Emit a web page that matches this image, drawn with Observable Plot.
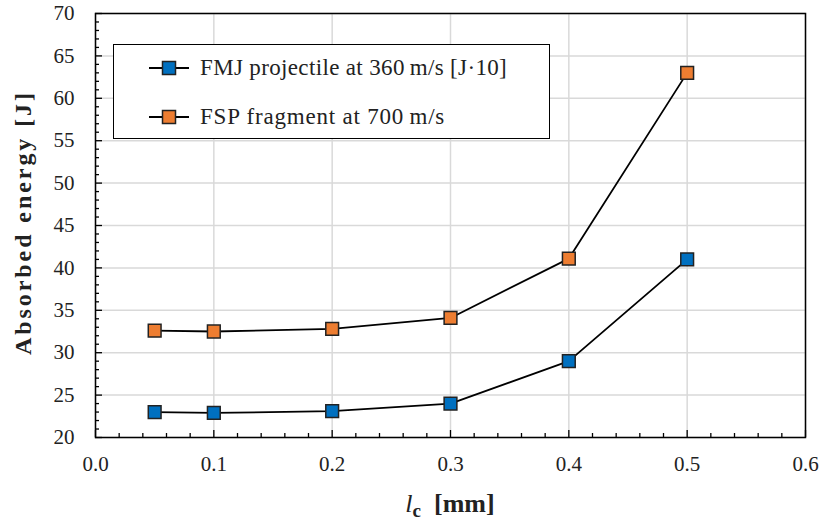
<!DOCTYPE html>
<html><head><meta charset="utf-8">
<script src="https://cdn.jsdelivr.net/npm/d3@7"></script>
<script src="https://cdn.jsdelivr.net/npm/@observablehq/plot@0.6"></script>
<style>
body{margin:0;background:#fff;}
#wrap{position:relative;width:822px;height:524px;font-family:"Liberation Serif",serif;}
#legend{position:absolute;left:113px;top:44px;width:435px;height:93px;border:1.5px solid #000;background:#fff;font-size:23px;color:#222;}
.li{position:absolute;left:34px;display:flex;align-items:center;white-space:nowrap;}
.li svg{margin-right:10px;}
</style></head>
<body><div id="wrap"><div id="legend"></div></div>
<script>
const lc = [0.05, 0.1, 0.2, 0.3, 0.4, 0.5];
const fmj = [23.0, 22.9, 23.1, 24.0, 29.0, 41.0];
const fsp = [32.6, 32.5, 32.8, 34.1, 41.1, 63.0];
const seriesNames = ["FMJ projectile at 360\u2009m/s [J\u00b710]", "FSP fragment at 700\u2009m/s"];
const colors = ["#0070C0", "#ED7D31"];
const xTicks = [0, 0.1, 0.2, 0.3, 0.4, 0.5, 0.6];
const yTicks = [20, 25, 30, 35, 40, 45, 50, 55, 60, 65, 70];
const xMinor = d3.range(0, 61, 2).map(d => d / 100).filter(d => Math.round(d * 100) % 10 !== 0);
const yMinor = d3.range(20, 71).filter(d => d % 5 !== 0);

const data = [];
lc.forEach((x, i) => data.push({x, y: fmj[i], s: seriesNames[0]}));
lc.forEach((x, i) => data.push({x, y: fsp[i], s: seriesNames[1]}));

const plot = Plot.plot({
  width: 822, height: 524,
  marginLeft: 95, marginRight: 17, marginTop: 13, marginBottom: 87,
  style: {fontFamily: "Liberation Serif, serif", fontSize: "21px", background: "#fff", color: "#222"},
  x: {domain: [0, 0.6]},
  y: {domain: [20, 70]},
  color: {domain: seriesNames, range: colors},
  marks: [
    Plot.gridX(xTicks, {stroke: "#d9d9d9", strokeOpacity: 1, strokeWidth: 1.5}),
    Plot.gridY(yTicks, {stroke: "#d9d9d9", strokeOpacity: 1, strokeWidth: 1.5}),
    Plot.axisX(xTicks, {tickSize: -7, tickFormat: () => "", label: null, strokeWidth: 1.3, stroke: "#000"}),
    Plot.axisX(xMinor, {tickSize: -4, tickFormat: () => "", label: null, strokeWidth: 1.3, stroke: "#000"}),
    Plot.axisY(yTicks, {tickSize: -7, tickFormat: () => "", label: null, strokeWidth: 1.3, stroke: "#000"}),
    Plot.axisY(yMinor, {tickSize: -4, tickFormat: () => "", label: null, strokeWidth: 1.3, stroke: "#000"}),
    Plot.axisX(xTicks, {tickSize: 0, tickPadding: 19, tickFormat: d => d.toFixed(1), label: null, fontSize: 21, fill: "#222"}),
    Plot.axisY(yTicks, {tickSize: 0, tickPadding: 21, label: null, fontSize: 21, fill: "#222"}),
    Plot.frame({stroke: "#000", strokeWidth: 1.5}),
    Plot.line(data, {x: "x", y: "y", z: "s", stroke: "#000", strokeWidth: 1.8}),
    Plot.dot(data, {x: "x", y: "y", symbol: "square", r: 7.2, fill: "s", stroke: "#222", strokeWidth: 1.5})
  ]
});
document.getElementById("wrap").prepend(plot);

const svg = d3.select(plot);
svg.append("text")
  .attr("transform", "translate(25,224) rotate(-90)")
  .attr("text-anchor", "middle").attr("dominant-baseline", "middle")
  .attr("font-size", 24).attr("font-weight", "bold").attr("fill", "#222")
  .attr("font-family", "Liberation Serif, serif")
  .attr("textLength", 262).attr("lengthAdjust", "spacing")
  .text("Absorbed energy [J]");
const xl = svg.append("text")
  .attr("x", 450).attr("y", 512).attr("text-anchor", "middle")
  .attr("font-size", 26).attr("fill", "#222").attr("font-family", "Liberation Serif, serif");
xl.append("tspan").attr("font-style", "italic").text("l");
xl.append("tspan").attr("font-weight", "bold").attr("font-size", 19).attr("dy", 5).text("c");
xl.append("tspan").attr("font-weight", "bold").attr("dy", -5).text("\u2002[mm]");

const lg = document.getElementById("legend");
seriesNames.forEach((name, i) => {
  const d = document.createElement("div");
  d.className = "li";
  d.style.top = (i === 0 ? 10 : 58.5) + "px";
  d.innerHTML = `<svg width="42" height="24"><line x1="1" x2="41" y1="12" y2="12" stroke="#000" stroke-width="1.8"/><rect x="14.5" y="5.5" width="13" height="13" fill="${colors[i]}" stroke="#222" stroke-width="1.5"/></svg><span style="letter-spacing:${i === 0 ? 0.35 : 0.8}px">${name}</span>`;
  lg.appendChild(d);
});
</script></body></html>
